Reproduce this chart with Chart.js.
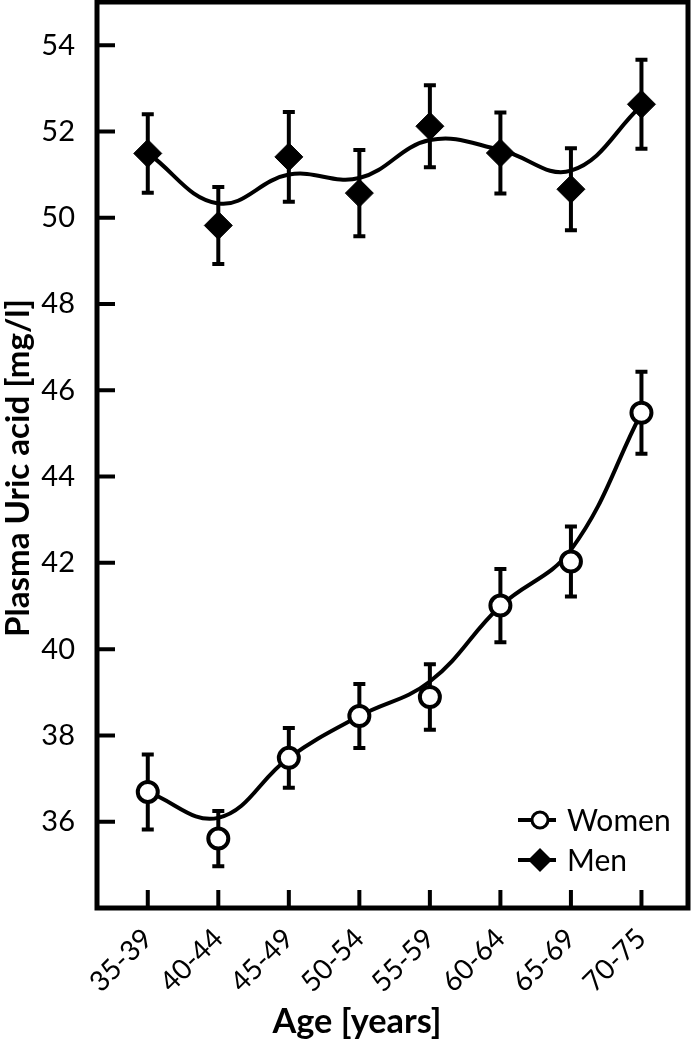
<!DOCTYPE html>
<html>
<head>
<meta charset="utf-8">
<script src="https://cdn.jsdelivr.net/npm/chart.js@4"></script>
<style>
html, body { margin: 0; padding: 0; background: #fff; }
</style>
</head>
<body>
<canvas id="canva" width="691" height="1041"></canvas>
<script>
// Datos
const edades = ["35-39", "40-44", "45-49", "50-54", "55-59", "60-64", "65-69", "70-75"];
const mujeres = [36.69, 35.61, 37.48, 38.45, 38.89, 41.01, 42.03, 45.48];
const errMujeres = [0.87, 0.64, 0.69, 0.74, 0.76, 0.85, 0.81, 0.95];
const hombres = [51.49, 49.82, 51.41, 50.57, 52.12, 51.50, 50.66, 52.63];
const errHombres = [0.91, 0.89, 1.04, 1.00, 0.95, 0.94, 0.95, 1.03];
// curvas suavizadas (ajuste), valores en cada grupo de edad
const curvaMujeres = [36.69, 36.09, 37.48, 38.45, 39.25, 41.00, 42.30, 45.48];
const curvaHombres = [51.50, 50.33, 51.00, 50.92, 51.80, 51.57, 51.09, 52.60];
const ticksY = [36, 38, 40, 42, 44, 46, 48, 50, 52, 54];

const fuente = "Lato, 'Open Sans', sans-serif";

function puntos(arr) {
  return arr.map((v, i) => ({ x: i, y: v }));
}

// tamaño de letra para que el texto ocupe un ancho dado
function fuenteAjustada(ctx, texto, ancho, peso) {
  ctx.font = peso + " 30px " + fuente;
  const s = 30 * ancho / ctx.measureText(texto).width;
  return peso + " " + s.toFixed(1) + "px " + fuente;
}

// Barras de error debajo de los marcadores
const barrasError = {
  id: "barrasError",
  beforeDatasetsDraw(chart) {
    const ctx = chart.ctx;
    const xs = chart.scales.x;
    const ys = chart.scales.y;
    ctx.save();
    ctx.strokeStyle = "#000";
    ctx.lineWidth = 4;
    [[mujeres, errMujeres], [hombres, errHombres]].forEach(([vals, errs]) => {
      vals.forEach((v, i) => {
        const x = xs.getPixelForValue(i);
        const y1 = ys.getPixelForValue(v + errs[i]);
        const y2 = ys.getPixelForValue(v - errs[i]);
        ctx.beginPath();
        ctx.moveTo(x, y1); ctx.lineTo(x, y2);
        ctx.moveTo(x - 6, y1); ctx.lineTo(x + 6, y1);
        ctx.moveTo(x - 6, y2); ctx.lineTo(x + 6, y2);
        ctx.stroke();
      });
    });
    ctx.restore();
  }
};

// Marco, ticks hacia adentro, titulos de ejes y leyenda
const marco = {
  id: "marco",
  afterDraw(chart) {
    const ctx = chart.ctx;
    const a = chart.chartArea;
    const xs = chart.scales.x;
    const ys = chart.scales.y;
    ctx.save();
    ctx.strokeStyle = "#000";
    ctx.lineWidth = 5;
    ctx.strokeRect(a.left, a.top, a.right - a.left, a.bottom - a.top);

    ctx.lineWidth = 4;
    ctx.beginPath();
    ticksY.forEach(t => {
      const y = ys.getPixelForValue(t);
      ctx.moveTo(a.left, y); ctx.lineTo(a.left + 18, y);
    });
    edades.forEach((e, i) => {
      const x = xs.getPixelForValue(i);
      ctx.moveTo(x, a.bottom); ctx.lineTo(x, a.bottom - 18);
    });
    ctx.stroke();

    // titulos
    ctx.fillStyle = "#000";
    ctx.textAlign = "center";
    ctx.textBaseline = "alphabetic";
    const tx = "Age [years]";
    ctx.font = fuenteAjustada(ctx, tx, 169, "bold");
    ctx.fillText(tx, 357, 1033);

    const ty = "Plasma Uric acid [mg/l]";
    ctx.save();
    ctx.translate(29, 468);
    ctx.rotate(-Math.PI / 2);
    ctx.font = fuenteAjustada(ctx, ty, 338, "bold");
    ctx.fillText(ty, 0, 0);
    ctx.restore();

    // leyenda
    const lx = a.right - 170;
    const items = [
      { txt: "Women", y: a.bottom - 88, estilo: "circle" },
      { txt: "Men", y: a.bottom - 48, estilo: "rectRot" }
    ];
    ctx.textAlign = "left";
    ctx.textBaseline = "middle";
    items.forEach(it => {
      ctx.lineWidth = 4;
      ctx.beginPath();
      ctx.moveTo(lx, it.y); ctx.lineTo(lx + 38, it.y);
      ctx.stroke();
      if (it.estilo === "circle") {
        ctx.lineWidth = 3;
        ctx.fillStyle = "#fff";
        ctx.beginPath();
        ctx.arc(lx + 22, it.y, 8, 0, Math.PI * 2);
        ctx.fill(); ctx.stroke();
      } else {
        ctx.fillStyle = "#000";
        ctx.beginPath();
        ctx.moveTo(lx + 22 - 12, it.y);
        ctx.lineTo(lx + 22, it.y - 12);
        ctx.lineTo(lx + 22 + 12, it.y);
        ctx.lineTo(lx + 22, it.y + 12);
        ctx.closePath();
        ctx.fill();
      }
      ctx.fillStyle = "#000";
      ctx.font = "30px " + fuente;
      ctx.fillText(it.txt, lx + 49, it.y + 1);
    });
    ctx.restore();
  }
};

new Chart(document.getElementById("canva").getContext("2d"), {
  type: "line",
  data: {
    datasets: [
      {
        label: "Women",
        data: puntos(mujeres),
        showLine: false,
        pointStyle: "circle",
        pointRadius: 10,
        pointBackgroundColor: "#fff",
        pointBorderColor: "#000",
        pointBorderWidth: 4,
        order: 0
      },
      {
        label: "Men",
        data: puntos(hombres),
        showLine: false,
        pointStyle: "rectRot",
        pointRadius: 14,
        pointBackgroundColor: "#000",
        pointBorderColor: "#000",
        pointBorderWidth: 1,
        order: 0
      },
      {
        label: "curva Women",
        data: puntos(curvaMujeres),
        borderColor: "#000",
        borderWidth: 4,
        pointRadius: 0,
        tension: 0.4,
        order: 1
      },
      {
        label: "curva Men",
        data: puntos(curvaHombres),
        borderColor: "#000",
        borderWidth: 4,
        pointRadius: 0,
        tension: 0.4,
        order: 1
      }
    ]
  },
  options: {
    responsive: false,
    animation: false,
    layout: { autoPadding: false, padding: { top: 2, right: 3 } },
    plugins: { legend: { display: false }, tooltip: { enabled: false } },
    scales: {
      x: {
        type: "linear",
        min: -0.72,
        max: 7.66,
        afterBuildTicks: s => { s.ticks = edades.map((e, i) => ({ value: i })); },
        afterFit: s => { s.height = 133; s.paddingLeft = 0; s.paddingRight = 0; },
        grid: { display: false },
        border: { display: false },
        ticks: {
          callback: v => edades[v],
          minRotation: 45,
          maxRotation: 45,
          padding: 6,
          color: "#000",
          font: { family: fuente, size: 28 }
        }
      },
      y: {
        min: 34,
        max: 55,
        afterBuildTicks: s => { s.ticks = ticksY.map(t => ({ value: t })); },
        afterFit: s => { s.width = 97; s.paddingTop = 0; s.paddingBottom = 0; },
        grid: { display: false },
        border: { display: false },
        ticks: {
          padding: 14,
          color: "#000",
          font: { family: fuente, size: 29 }
        }
      }
    }
  },
  plugins: [barrasError, marco]
});
</script>
</body>
</html>
